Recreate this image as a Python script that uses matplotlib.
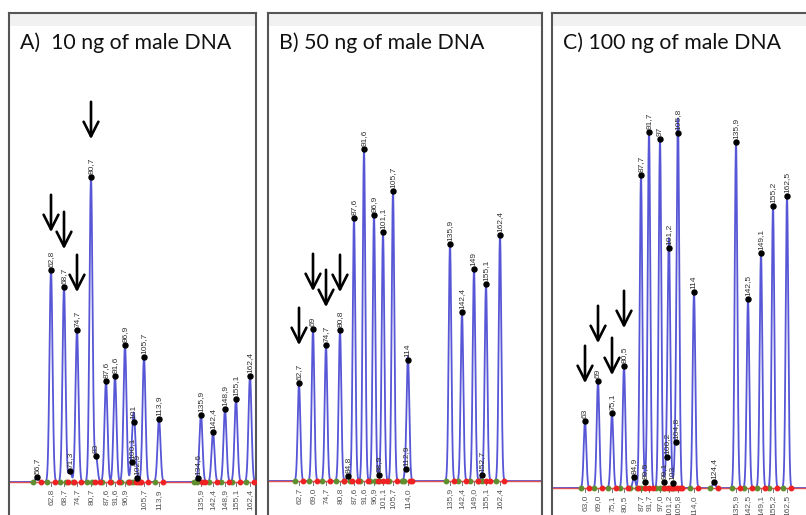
import numpy as np
import matplotlib
matplotlib.use("Agg")
import matplotlib.pyplot as plt

# peak data per panel: size (bp), scan position (relative to panel edge), height
a_size = [56.7, 62.8, 68.7, 71.3, 74.7, 80.7, 83.0, 87.6, 91.6, 96.9, 100.1, 101.0,
          102.9, 105.7, 113.9, 134.6, 135.9, 142.4, 148.9, 155.1, 162.4]
a_scan = [28, 42, 55, 61, 68, 82, 87, 97, 106, 116, 123, 125,
          128, 135, 150, 189, 192, 204, 216, 227, 241]
a_height = [5, 212, 195, 11, 152, 305, 26, 101, 106, 137, 20, 60,
            4, 125, 63, 4, 67, 50, 73, 83, 106]
a_called = [62.8, 68.7, 74.7, 80.7, 87.6, 91.6, 96.9, 105.7, 113.9,
            135.9, 142.4, 148.9, 155.1, 162.4]
a_arrows = [62.8, 68.7, 74.7, 80.7]

b_size = [62.7, 69.0, 74.7, 80.8, 84.8, 87.6, 91.6, 96.9, 98.9, 101.1, 105.7,
          112.9, 114.0, 135.9, 142.4, 149.0, 152.7, 155.1, 162.4]
b_scan = [31, 45, 58, 72, 80, 86, 96, 106, 111, 115, 125,
          138, 140, 182, 194, 206, 214, 218, 232]
b_height = [98, 152, 136, 151, 5, 263, 332, 266, 6, 249, 290,
            12, 121, 237, 169, 212, 6, 197, 246]
b_called = [62.7, 69.0, 74.7, 80.8, 87.6, 91.6, 96.9, 101.1, 105.7, 114.0,
            135.9, 142.4, 149.0, 155.1, 162.4]
b_arrows = [62.7, 69.0, 74.7, 80.8]

c_size = [63.0, 69.0, 75.1, 80.5, 84.9, 87.7, 89.5, 91.7, 97.0, 99.1, 100.2, 101.2,
          103.0, 104.8, 105.8, 114.0, 124.4, 135.9, 142.5, 149.1, 155.2, 162.5]
c_scan = [33, 46, 60, 72, 82, 89, 93, 97, 108, 112, 115, 117,
          121, 124, 126, 142, 162, 184, 196, 209, 221, 235]
c_height = [67, 107, 75, 122, 11, 313, 6, 356, 349, 6, 31, 240,
            5, 46, 355, 196, 6, 346, 189, 235, 282, 292]
c_called = [63.0, 69.0, 75.1, 80.5, 87.7, 91.7, 97.0, 101.2, 105.8, 114.0,
            135.9, 142.5, 149.1, 155.2, 162.5]
c_arrows = [63.0, 69.0, 75.1, 80.5]

titles = ["A)  10 ng of male DNA", "B) 50 ng of male DNA", "C) 100 ng of male DNA"]

W, H = 806, 515
fig = plt.figure(figsize=(W / 100, H / 100), dpi=100)

TRACE = "#5656d6"


def fmt(v, short=True):
    s = f"{v:.1f}".replace(".", ",")
    if short and s.endswith(",0"):
        s = s[:-2]
    return s


def panel(left, right, base, size, scan, height, called, arrows, title, sigma):
    top, bottom = 13, 560
    ax = fig.add_axes([left / W, 1 - bottom / H, (right - left) / W, (bottom - top) / H])
    ymax = base - top
    ax.set_xlim(0, right - left)
    ax.set_ylim(-(bottom - base), ymax)
    ax.set_xticks([])
    ax.set_yticks([])
    for k in ["left", "right", "top"]:
        ax.spines[k].set_color("#555555")
        ax.spines[k].set_linewidth(1.5)
    ax.spines["bottom"].set_visible(False)
    ax.axhspan(ymax - 13, ymax, color="#f1f1f1", lw=0, zorder=0)

    ax.text(11, base - 43, title, fontsize=15.3, family="Lato", va="center", ha="left",
            color="#111111")

    ax.axhline(0, color="#e05050", lw=1.0, zorder=2.5)

    xs = np.linspace(0, right - left, 3000)
    ys = np.zeros_like(xs)
    for s, h in zip(scan, height):
        ys += h * np.exp(-0.5 * ((xs - s) / sigma) ** 2)
    ax.plot(xs, ys, color=TRACE, lw=1.3, zorder=2)

    ax.plot(np.array(scan) - 4, np.zeros(len(scan)), "o", color="#5f8f2f", ms=3.2, zorder=3)
    ax.plot(np.array(scan) + 4, np.zeros(len(scan)), "o", color="#ee2222", ms=3.2, zorder=3)
    ax.plot(scan, height, "o", color="black", ms=3.6, zorder=4)

    for sz, s, h in zip(size, scan, height):
        ax.text(s, h + 3, fmt(sz), rotation=90, ha="center", va="bottom",
                fontsize=6, family="Liberation Sans", color="#333333", zorder=5)

    for c in called:
        s = scan[size.index(c)]
        ax.plot([s, s], [0, -4], color="#777777", lw=0.7)
        ax.text(s, -7, fmt(c, short=False), rotation=90, ha="center", va="top",
                fontsize=6, family="Liberation Sans", color="#555555")

    for a in arrows:
        i = size.index(a)
        s, h = scan[i], height[i]
        ax.annotate("", xy=(s, h + 35), xytext=(s, h + 78),
                    arrowprops=dict(arrowstyle="->,head_length=0.75,head_width=0.38",
                                    lw=1.9, color="black", mutation_scale=14))
    return ax


panel(9, 256, 482, a_size, a_scan, a_height, a_called, a_arrows, titles[0], 1.5)
panel(268, 542, 481, b_size, b_scan, b_height, b_called, b_arrows, titles[1], 1.3)
panel(552, 830, 488, c_size, c_scan, c_height, c_called, c_arrows, titles[2], 1.3)

fig.savefig("out.png", dpi=100)
